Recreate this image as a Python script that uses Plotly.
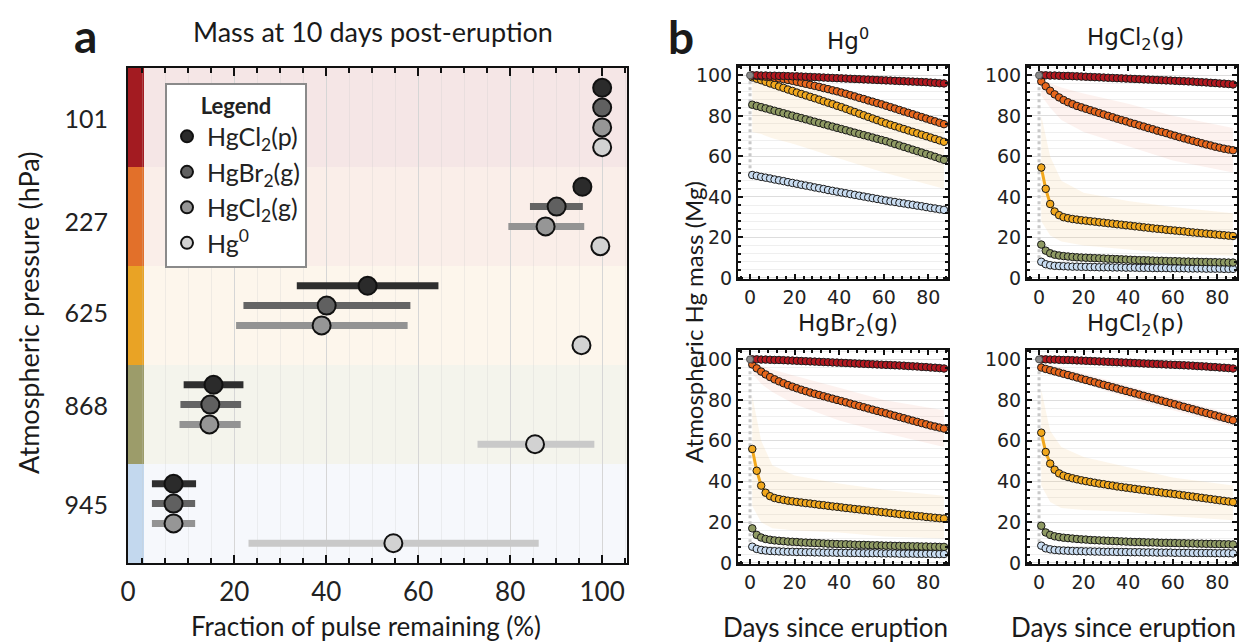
import plotly.graph_objects as go

# ---------------- Panel a data ----------------
levels = ["101", "227", "625", "868", "945"]
species = ["HgCl<sub>2</sub>(p)", "HgBr<sub>2</sub>(g)", "HgCl<sub>2</sub>(g)", "Hg<sup>0</sup>"]
frac_mean = {
    "HgCl2p": [100, 95.7, 49.0, 15.5, 6.8],
    "HgBr2g": [100, 90.1, 40.1, 14.8, 6.8],
    "HgCl2g": [100, 87.7, 39.0, 14.6, 6.8],
    "Hg0":    [100, 99.6, 95.5, 85.4, 54.6],
}
frac_lo = {
    "HgCl2p": [100, 95.7, 33.6, 9.0, 2.1],
    "HgBr2g": [100, 84.3, 22.0, 8.3, 2.1],
    "HgCl2g": [100, 79.6, 20.4, 8.1, 2.1],
    "Hg0":    [100, 99.6, 95.5, 72.9, 23.1],
}
frac_hi = {
    "HgCl2p": [100, 95.7, 64.4, 22.0, 11.7],
    "HgBr2g": [100, 95.8, 58.3, 21.5, 11.5],
    "HgCl2g": [100, 96.1, 57.7, 21.4, 11.5],
    "Hg0":    [100, 99.6, 95.5, 98.3, 86.2],
}
species_keys = ["HgCl2p", "HgBr2g", "HgCl2g", "Hg0"]
marker_fill = ["#2b2b2b", "#606060", "#969696", "#d2d2d2"]
err_color = ["#2e2e2e", "#646464", "#939393", "#c9c9c9"]

# ---------------- Panel b data ----------------
days = [1, 3, 5, 7, 9, 11, 13, 15, 17, 19, 21, 23, 25, 27, 29, 31, 33, 35, 37, 39, 41, 43,
        45, 47, 49, 51, 53, 55, 57, 59, 61, 63, 65, 67, 69, 71, 73, 75, 77, 79, 81, 83, 85, 87]
initial_mass = 100

hg0_101 = [100.0, 100.0, 99.9, 99.9, 99.8, 99.8, 99.7, 99.7, 99.6, 99.5, 99.5, 99.4, 99.3, 99.2, 99.1,
           99.0, 98.9, 98.8, 98.7, 98.6, 98.5, 98.4, 98.3, 98.2, 98.1, 98.0, 97.9, 97.8, 97.7, 97.6,
           97.5, 97.4, 97.3, 97.2, 97.1, 97.0, 96.9, 96.8, 96.7, 96.6, 96.4, 96.3, 96.1, 96.0]
hg0_227 = [99.8, 99.7, 99.5, 99.3, 99.1, 98.8, 98.5, 98.1, 97.7, 97.3, 96.8, 96.3, 95.8, 95.3, 94.8,
           94.3, 93.7, 93.2, 92.6, 92.1, 91.5, 90.9, 90.2, 89.6, 88.9, 88.3, 87.6, 87.0, 86.3, 85.7,
           85.0, 84.3, 83.6, 82.9, 82.2, 81.5, 80.8, 80.1, 79.4, 78.7, 78.0, 77.3, 76.6, 75.9]
hg0_625 = [99.0, 98.3, 97.6, 96.8, 96.0, 95.3, 94.5, 93.8, 93.0, 92.3, 91.5, 90.8, 90.1, 89.4, 88.7,
           88.0, 87.2, 86.5, 85.8, 85.0, 84.3, 83.5, 82.7, 81.9, 81.1, 80.3, 79.5, 78.7, 77.9, 77.1,
           76.3, 75.6, 74.9, 74.2, 73.5, 72.8, 72.1, 71.4, 70.7, 70.0, 69.3, 68.6, 67.9, 67.2]
hg0_868 = [85.5, 84.9, 84.3, 83.7, 83.1, 82.5, 81.9, 81.3, 80.7, 80.1, 79.5, 78.9, 78.3, 77.7, 77.1,
           76.5, 75.9, 75.3, 74.7, 74.1, 73.5, 72.9, 72.3, 71.7, 71.1, 70.5, 69.9, 69.3, 68.7, 68.1,
           67.5, 66.8, 66.1, 65.4, 64.7, 64.0, 63.3, 62.6, 61.9, 61.2, 60.5, 59.8, 59.0, 58.3]
hg0_945 = [50.8, 50.4, 49.9, 49.5, 49.1, 48.6, 48.2, 47.8, 47.3, 46.9, 46.5, 46.0, 45.6, 45.2, 44.7,
           44.3, 43.9, 43.4, 43.0, 42.6, 42.2, 41.8, 41.4, 41.0, 40.6, 40.2, 39.8, 39.4, 39.0, 38.6,
           38.2, 37.8, 37.5, 37.1, 36.8, 36.4, 36.1, 35.7, 35.4, 35.0, 34.6, 34.3, 33.9, 33.6]

hal_101 = [100.0, 100.0, 99.9, 99.9, 99.8, 99.7, 99.7, 99.6, 99.5, 99.4, 99.3, 99.2, 99.1, 99.0, 98.9,
           98.8, 98.7, 98.6, 98.5, 98.4, 98.3, 98.2, 98.1, 98.0, 97.9, 97.8, 97.7, 97.6, 97.5, 97.4,
           97.3, 97.2, 97.1, 97.0, 96.9, 96.7, 96.6, 96.5, 96.3, 96.2, 96.0, 95.9, 95.7, 95.5]

cl2g_227 = [97.0, 94.6, 92.4, 90.6, 89.1, 87.8, 86.7, 85.8, 84.9, 84.2, 83.5, 82.8, 82.1, 81.4, 80.7,
            80.0, 79.3, 78.6, 77.9, 77.3, 76.6, 76.0, 75.3, 74.7, 74.0, 73.4, 72.7, 72.1, 71.5, 70.8,
            70.2, 69.5, 68.9, 68.3, 67.7, 67.1, 66.5, 65.9, 65.4, 64.8, 64.3, 63.8, 63.4, 63.0]
cl2g_625 = [54.5, 44.0, 36.5, 32.8, 31.0, 30.0, 29.5, 29.1, 28.8, 28.5, 28.3, 28.0, 27.8, 27.5, 27.3,
            27.0, 26.8, 26.5, 26.3, 26.0, 25.8, 25.5, 25.3, 25.0, 24.8, 24.5, 24.3, 24.1, 23.8, 23.6,
            23.4, 23.2, 23.0, 22.7, 22.5, 22.3, 22.1, 21.9, 21.7, 21.5, 21.3, 21.1, 20.9, 20.7]
cl2g_868 = [16.5, 13.5, 12.2, 11.5, 11.1, 10.8, 10.6, 10.4, 10.2, 10.1, 10.0, 9.9, 9.8, 9.7, 9.6,
            9.5, 9.4, 9.3, 9.2, 9.1, 9.0, 8.9, 8.8, 8.8, 8.7, 8.6, 8.5, 8.5, 8.4, 8.3,
            8.3, 8.2, 8.1, 8.1, 8.0, 8.0, 7.9, 7.9, 7.8, 7.8, 7.7, 7.7, 7.6, 7.6]
cl2g_945 = [8.0, 6.8, 6.3, 6.0, 5.9, 5.8, 5.7, 5.6, 5.6, 5.5, 5.5, 5.4, 5.4, 5.3, 5.3,
            5.3, 5.2, 5.2, 5.2, 5.1, 5.1, 5.1, 5.0, 5.0, 5.0, 4.9, 4.9, 4.9, 4.9, 4.8,
            4.8, 4.8, 4.8, 4.7, 4.7, 4.7, 4.7, 4.6, 4.6, 4.6, 4.6, 4.5, 4.5, 4.5]

br2_227 = [97.5, 95.6, 94.0, 92.6, 91.3, 90.2, 89.2, 88.3, 87.4, 86.6, 85.8, 85.1, 84.4, 83.7, 83.1,
           82.5, 81.9, 81.3, 80.7, 80.1, 79.5, 78.9, 78.3, 77.7, 77.1, 76.5, 75.9, 75.3, 74.7, 74.1,
           73.5, 72.9, 72.3, 71.7, 71.1, 70.5, 69.9, 69.3, 68.7, 68.1, 67.5, 67.0, 66.5, 66.0]
br2_625 = [56.0, 45.3, 38.0, 34.5, 32.8, 31.9, 31.4, 31.0, 30.6, 30.3, 30.0, 29.7, 29.4, 29.2, 28.9,
           28.6, 28.4, 28.1, 27.8, 27.6, 27.3, 27.0, 26.8, 26.5, 26.3, 26.0, 25.8, 25.5, 25.3, 25.0,
           24.8, 24.5, 24.3, 24.0, 23.8, 23.6, 23.3, 23.1, 22.9, 22.6, 22.4, 22.2, 22.0, 21.8]
br2_868 = [17.0, 13.8, 12.5, 11.8, 11.4, 11.1, 10.9, 10.7, 10.5, 10.4, 10.3, 10.1, 10.0, 9.9, 9.8,
           9.7, 9.6, 9.5, 9.4, 9.3, 9.2, 9.2, 9.1, 9.0, 8.9, 8.9, 8.8, 8.7, 8.7, 8.6,
           8.5, 8.5, 8.4, 8.4, 8.3, 8.3, 8.2, 8.2, 8.1, 8.1, 8.0, 8.0, 7.9, 7.9]
br2_945 = [8.0, 6.9, 6.4, 6.1, 5.9, 5.8, 5.7, 5.6, 5.5, 5.5, 5.4, 5.4, 5.3, 5.3, 5.2,
           5.2, 5.1, 5.1, 5.1, 5.0, 5.0, 5.0, 4.9, 4.9, 4.9, 4.8, 4.8, 4.8, 4.8, 4.7,
           4.7, 4.7, 4.7, 4.6, 4.6, 4.6, 4.6, 4.5, 4.5, 4.5, 4.5, 4.4, 4.4, 4.4]

cl2p_227 = [96.0, 95.3, 94.7, 94.1, 93.5, 92.9, 92.3, 91.7, 91.1, 90.5, 89.9, 89.3, 88.7, 88.1, 87.5,
            86.9, 86.3, 85.7, 85.1, 84.5, 83.9, 83.3, 82.7, 82.1, 81.5, 80.9, 80.3, 79.7, 79.1, 78.5,
            77.9, 77.3, 76.7, 76.1, 75.5, 74.9, 74.3, 73.7, 73.1, 72.5, 71.9, 71.3, 70.7, 70.1]
cl2p_625 = [64.0, 54.5, 48.8, 45.8, 44.0, 42.9, 42.2, 41.6, 41.1, 40.6, 40.2, 39.8, 39.4, 39.0, 38.7,
            38.3, 38.0, 37.6, 37.3, 37.0, 36.7, 36.4, 36.1, 35.8, 35.5, 35.2, 34.9, 34.6, 34.3, 34.1,
            33.8, 33.5, 33.2, 32.9, 32.6, 32.3, 32.0, 31.7, 31.4, 31.1, 30.8, 30.5, 30.2, 29.9]
cl2p_868 = [18.3, 15.0, 13.8, 13.1, 12.7, 12.4, 12.2, 12.0, 11.8, 11.6, 11.5, 11.3, 11.2, 11.1, 11.0,
            10.9, 10.8, 10.7, 10.6, 10.5, 10.4, 10.3, 10.3, 10.2, 10.1, 10.1, 10.0, 9.9, 9.9, 9.8,
            9.8, 9.7, 9.7, 9.6, 9.6, 9.5, 9.5, 9.4, 9.4, 9.3, 9.3, 9.2, 9.2, 9.1]
cl2p_945 = [8.5, 7.2, 6.7, 6.4, 6.2, 6.1, 6.0, 5.9, 5.8, 5.8, 5.7, 5.7, 5.6, 5.6, 5.5,
            5.5, 5.5, 5.4, 5.4, 5.4, 5.3, 5.3, 5.3, 5.2, 5.2, 5.2, 5.1, 5.1, 5.1, 5.1,
            5.0, 5.0, 5.0, 5.0, 4.9, 4.9, 4.9, 4.9, 4.9, 4.8, 4.8, 4.8, 4.8, 4.7]

# uncertainty envelopes (coarse)
band_days = [1, 5, 10, 20, 40, 60, 87]
hg0_625_up = [99, 99, 98, 96, 90, 83, 74]
hg0_625_lo = [72, 71, 69, 66, 59, 52, 44]
cl2g_227_up = [98, 96, 94, 91, 86, 80, 74]
cl2g_227_lo = [90, 84, 78, 72, 65, 58, 52]
cl2g_625_up = [80, 60, 48, 42, 38, 35, 32]
cl2g_625_lo = [28, 21, 18, 16, 14, 12, 11]
br2_227_up = [99, 97, 95, 92, 86, 80, 75]
br2_227_lo = [93, 88, 84, 78, 70, 64, 57]
br2_625_up = [82, 60, 48, 43, 39, 36, 33]
br2_625_lo = [28, 20, 17, 16, 15, 13, 12]
cl2p_227_up = [98, 97.5, 96, 93, 87, 81, 73]
cl2p_227_lo = [94, 93, 92, 88, 81, 75, 67]
cl2p_625_up = [85, 65, 57, 52, 47, 42, 38]
cl2p_625_lo = [38, 30, 27, 26, 25, 23, 21]

series_colors = ["#b3181f", "#e8671c", "#f2a81d", "#8f9a63", "#c9ddf2"]
band_colors = {"227": "rgba(232,130,100,0.10)", "625": "rgba(240,200,130,0.16)"}

panels = [
    dict(name="Hg<sup>0</sup>", xa="x2", ya="y2", series=[hg0_101, hg0_227, hg0_625, hg0_868, hg0_945],
         bands=[("625", hg0_625_up, hg0_625_lo)]),
    dict(name="HgCl<sub>2</sub>(g)", xa="x3", ya="y3", series=[hal_101, cl2g_227, cl2g_625, cl2g_868, cl2g_945],
         bands=[("227", cl2g_227_up, cl2g_227_lo), ("625", cl2g_625_up, cl2g_625_lo)]),
    dict(name="HgBr<sub>2</sub>(g)", xa="x4", ya="y4", series=[hal_101, br2_227, br2_625, br2_868, br2_945],
         bands=[("227", br2_227_up, br2_227_lo), ("625", br2_625_up, br2_625_lo)]),
    dict(name="HgCl<sub>2</sub>(p)", xa="x5", ya="y5", series=[hal_101, cl2p_227, cl2p_625, cl2p_868, cl2p_945],
         bands=[("227", cl2p_227_up, cl2p_227_lo), ("625", cl2p_625_up, cl2p_625_lo)]),
]

LATO = "Lato"
DJV = "DejaVu Sans"
W, H = 1240, 644

fig = go.Figure()

# ---------------- Panel a traces ----------------
for s, key in enumerate(species_keys):
    ys = [5 * i + (s + 1) for i in range(len(levels))]
    m = frac_mean[key]
    plus = [h - v for h, v in zip(frac_hi[key], m)]
    minus = [v - l for v, l in zip(m, frac_lo[key])]
    fig.add_trace(go.Scatter(
        x=m, y=ys, mode="markers", name=species[s], xaxis="x", yaxis="y",
        marker=dict(size=18, color=marker_fill[s], line=dict(color="#111", width=2)),
        error_x=dict(type="data", symmetric=False, array=plus, arrayminus=minus,
                     color=err_color[s], thickness=7, width=0),
        showlegend=True, hoverinfo="skip"))

# ---------------- Panel b traces ----------------
for p in panels:
    for lvl, up, lo in p["bands"]:
        fig.add_trace(go.Scatter(
            x=band_days + band_days[::-1], y=up + lo[::-1], fill="toself", mode="none",
            fillcolor=band_colors[lvl], xaxis=p["xa"], yaxis=p["ya"], showlegend=False, hoverinfo="skip"))
    firsts = [ser[0] for ser in p["series"]]
    fig.add_trace(go.Scatter(
        x=[0, 0], y=[initial_mass, min(firsts)], mode="lines",
        line=dict(color="#c8c8c8", width=3, dash="dot"),
        xaxis=p["xa"], yaxis=p["ya"], showlegend=False, hoverinfo="skip"))
    for k in range(4, -1, -1):
        fig.add_trace(go.Scatter(
            x=days, y=p["series"][k], mode="lines+markers",
            line=dict(color=series_colors[k], width=3),
            marker=dict(size=7.5, color=series_colors[k], line=dict(color="#1a1a1a", width=1)),
            xaxis=p["xa"], yaxis=p["ya"], showlegend=False, hoverinfo="skip"))
    fig.add_trace(go.Scatter(
        x=[0], y=[initial_mass], mode="markers",
        marker=dict(size=7, color="#8a8a8a", line=dict(color="#555", width=1)),
        xaxis=p["xa"], yaxis=p["ya"], showlegend=False, hoverinfo="skip"))

# ---------------- Layout ----------------
def px_x(a, b):
    return [a / W, b / W]

def px_y(top, bottom):
    return [1 - bottom / H, 1 - top / H]

axis_a_common = dict(showline=True, linecolor="#111", linewidth=2, mirror="allticks",
                     zeroline=False, automargin=False)

layout = dict(
    width=W, height=H, margin=dict(l=0, r=0, t=0, b=0, autoexpand=False), autosize=False,
    paper_bgcolor="white", plot_bgcolor="white",
    font=dict(family=LATO, color="#222"),
    xaxis=dict(domain=px_x(128, 627), range=[-3.1, 105.4], anchor="y",
               tickmode="array", tickvals=[-3.1, 20, 40, 60, 80, 100],
               ticktext=["0", "20", "40", "60", "80", "100"],
               ticks="inside", ticklen=8, tickcolor="#111", tickwidth=1.5,
               ticklabelstandoff=5,
               tickfont=dict(family=LATO, size=26, color="#222"),
               showgrid=True, gridcolor="#d6d6d6", gridwidth=1,
               minor=dict(tickmode="linear", tick0=0, dtick=5, ticks="inside", ticklen=5,
                          tickcolor="#111", showgrid=True, gridcolor="rgba(200,200,200,0.25)"),
               layer="above traces", **axis_a_common),
    yaxis=dict(domain=px_y(68, 563), range=[25, 0], anchor="x",
               tickmode="array", tickvals=[2.6, 7.8, 12.4, 17.1, 22.1], ticktext=levels,
               ticks="", showgrid=False, ticklabelstandoff=13,
               tickfont=dict(family=LATO, size=25, color="#222"),
               **axis_a_common),
    legend=dict(x=165 / W, y=1 - 83 / H, xanchor="left", yanchor="top",
                bgcolor="white", bordercolor="#8a8a8a", borderwidth=2,
                font=dict(family=LATO, size=25, color="#222"), itemsizing="constant",
                title=dict(text="<b>Legend</b>", side="top center",
                           font=dict(family=LATO, size=22, color="#222"))),
)

b_dom = {
    "2": (px_x(738, 948), px_y(66, 279)),
    "3": (px_x(1027, 1237), px_y(66, 279)),
    "4": (px_x(738, 948), px_y(350, 564)),
    "5": (px_x(1027, 1237), px_y(350, 564)),
}
for k, (xd, yd) in b_dom.items():
    common = dict(showline=True, linecolor="#111", linewidth=2, mirror="allticks", zeroline=False,
                  ticks="inside", ticklen=5, tickcolor="#111", tickwidth=1.5, automargin=False,
                  tickfont=dict(family=DJV, size=19, color="#222"))
    layout["xaxis" + k] = dict(domain=xd, range=[-5.4, 88.8], anchor="y" + k,
                               tickmode="array", tickvals=[0, 20, 40, 60, 80],
                               showgrid=False,
                               minor=dict(tickmode="linear", tick0=0, dtick=4, ticks="inside",
                                          ticklen=3, tickcolor="#111"),
                               **common)
    layout["yaxis" + k] = dict(domain=yd, range=[-0.5, 104.6], anchor="x" + k,
                               tickmode="array", tickvals=[0, 20, 40, 60, 80, 100],
                               showgrid=True, gridcolor="#dddddd", gridwidth=1,
                               minor=dict(tickmode="linear", tick0=0, dtick=4, ticks="inside",
                                          ticklen=3, tickcolor="#111", showgrid=True,
                                          gridcolor="#efefef"),
                               **common)

fig.update_layout(**layout)

# ---------------- Panel a background shapes ----------------
bg_colors = ["#f5e6e6", "#faeee9", "#fdf6ec", "#f4f4ec", "#f6f8fc"]
strip_colors = ["#a31b21", "#e2702a", "#e9a325", "#9c9c6a", "#c3d8ee"]
for i in range(len(levels)):
    fig.add_shape(type="rect", xref="x domain", yref="y", x0=0, x1=1, y0=5 * i, y1=5 * i + 5,
                  fillcolor=bg_colors[i], line=dict(width=0), layer="below")
    fig.add_shape(type="rect", xref="x domain", yref="y", x0=0, x1=16 / 499, y0=5 * i, y1=5 * i + 5,
                  fillcolor=strip_colors[i], line=dict(width=0), layer="below")

# ---------------- Annotations ----------------
def ann(text, x, y, size, family=LATO, angle=0, bold=False):
    t = f"<b>{text}</b>" if bold else text
    fig.add_annotation(text=t, x=x / W, y=1 - y / H, xref="paper", yref="paper",
                       showarrow=False, xanchor="center", yanchor="middle", textangle=angle,
                       font=dict(family=family, size=size, color="#1a1a1a"))

ann("a", 85, 35, 46, bold=True)
ann("b", 681, 36, 46, bold=True)
ann("Mass at 10 days post-eruption", 373, 31, 27)
ann("Fraction of pulse remaining (%)", 366, 626, 26)
ann("Atmospheric pressure (hPa)", 28, 313, 27, angle=-90)
ann("Atmospheric Hg mass (Mg)", 693, 322, 24, angle=-90)
ann("Days since eruption", 835, 627, 26)
ann("Days since eruption", 1123, 627, 26)
for p, (cx, cy) in zip(panels, [(848, 39), (1135, 39), (848, 325), (1135, 325)]):
    ann(p["name"], cx, cy, 23, family=DJV)

fig.write_html("out.html", config={"displayModeBar": False},
               post_script="document.body.style.margin='0px';document.body.style.overflow='hidden';")
